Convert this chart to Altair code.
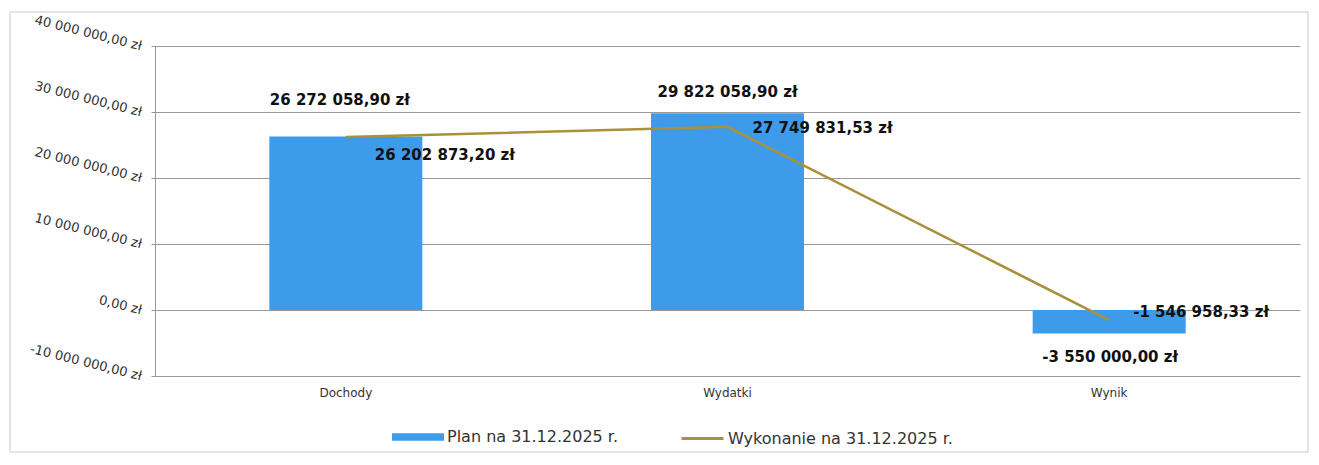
import altair as alt
import pandas as pd

categories = ["Dochody", "Wydatki", "Wynik"]
plan = [26272058.90, 29822058.90, -3550000.00]
wykonanie = [26202873.20, 27749831.53, -1546958.33]
series_names = ["Plan na 31.12.2025 r.", "Wykonanie na 31.12.2025 r."]
y_ticks = [-10000000, 0, 10000000, 20000000, 30000000, 40000000]
y_tick_labels = ["-10 000 000,00 zł", "0,00 zł", "10 000 000,00 zł",
                 "20 000 000,00 zł", "30 000 000,00 zł", "40 000 000,00 zł"]

BLUE = "#3D9BE9"
OLIVE = "#A8913A"
FONT = "DejaVu Sans"


def pl(v):
    s = f"{abs(v):,.2f}".replace(",", " ").replace(".", ",")
    return ("-" if v < 0 else "") + s + " zł"


df = pd.DataFrame({
    "kategoria": categories,
    "plan": plan,
    "wyk": wykonanie,
    "plan_lbl": [pl(v) for v in plan],
    "wyk_lbl": [pl(v) for v in wykonanie],
    "s1": series_names[0],
    "s2": series_names[1],
})

label_expr = " : ".join(
    f"datum.value == {t} ? '{l}'" for t, l in zip(y_ticks, y_tick_labels)
) + " : ''"

yscale = alt.Scale(domain=[-10000000, 40000000], nice=False, zero=True)
xenc = alt.X("kategoria:N", sort=categories,
             scale=alt.Scale(paddingInner=0, paddingOuter=0),
             axis=alt.Axis(title=None, labelAngle=0, domain=False, ticks=False,
                           labelPadding=11, labelFont=FONT, labelFontSize=12,
                           labelColor="#333", grid=False))

base = alt.Chart(df)

bars = base.mark_bar(size=153).encode(
    x=xenc,
    y=alt.Y("plan:Q", scale=yscale,
            axis=alt.Axis(title=None, values=y_ticks, labelExpr=label_expr,
                          labelAngle=14, labelAlign="right", labelBaseline="middle",
                          labelFont=FONT, labelFontSize=13, labelColor="#333",
                          labelPadding=10, tickSize=4, tickColor="#999",
                          domainColor="#999", gridColor="#9a9a9a", grid=True,
                          labelLimit=0)),
    fill=alt.Fill("s1:N", scale=alt.Scale(domain=[series_names[0]], range=[BLUE]),
                  legend=alt.Legend(title=None, orient="none", legendX=237, legendY=365,
                                    symbolType="M-1,-0.14H1V0.14H-1Z", symbolSize=2704,
                                    symbolStrokeWidth=0, labelOffset=3, padding=0,
                                    labelLimit=0,
                                    labelFont=FONT, labelFontSize=16, labelColor="#333")),
)

line = base.mark_line(strokeWidth=2.5).encode(
    x=xenc,
    y=alt.Y("wyk:Q", scale=yscale),
    stroke=alt.Stroke("s2:N", scale=alt.Scale(domain=[series_names[1]], range=[OLIVE]),
                      legend=alt.Legend(title=None, orient="none", legendX=525, legendY=370,
                                        symbolType="stroke", symbolSize=1764,
                                        symbolStrokeWidth=3, labelOffset=3, padding=0,
                                        labelLimit=0,
                                        labelFont=FONT, labelFontSize=16, labelColor="#333")),
)

plan_offsets = {"Dochody": (-6, -37), "Wydatki": (0, -21), "Wynik": (1, 24)}
wyk_offsets = {"Dochody": (29, 18), "Wydatki": (25, 1), "Wynik": (24, -8)}

texts = []
for cat in categories:
    dx, dy = plan_offsets[cat]
    texts.append(base.transform_filter(alt.datum.kategoria == cat).mark_text(
        font=FONT, fontSize=15, fontWeight="bold", color="#111",
        align="center", baseline="middle", dx=dx, dy=dy
    ).encode(x=xenc, y=alt.Y("plan:Q", scale=yscale), text="plan_lbl:N"))
    dx, dy = wyk_offsets[cat]
    texts.append(base.transform_filter(alt.datum.kategoria == cat).mark_text(
        font=FONT, fontSize=15, fontWeight="bold", color="#111",
        align="left", baseline="middle", dx=dx, dy=dy
    ).encode(x=xenc, y=alt.Y("wyk:Q", scale=yscale), text="wyk_lbl:N"))

frame = alt.Chart(pd.DataFrame({"a": [0]})).mark_rect(
    filled=False, stroke="#c8c8c8", strokeWidth=1
).encode(x=alt.value(-145), x2=alt.value(1153), y=alt.value(-34), y2=alt.value(406))

chart = alt.layer(frame, bars, line, *texts).resolve_scale(
    fill="independent", stroke="independent"
).properties(
    width=1145, height=330,
    padding={"left": 147, "top": 38, "right": 11, "bottom": 78},
    autosize=alt.AutoSizeParams(type="none"),
    background="white",
).configure_view(strokeOpacity=0)

chart.save("out.html", embed_options={"renderer": "svg", "actions": False})
